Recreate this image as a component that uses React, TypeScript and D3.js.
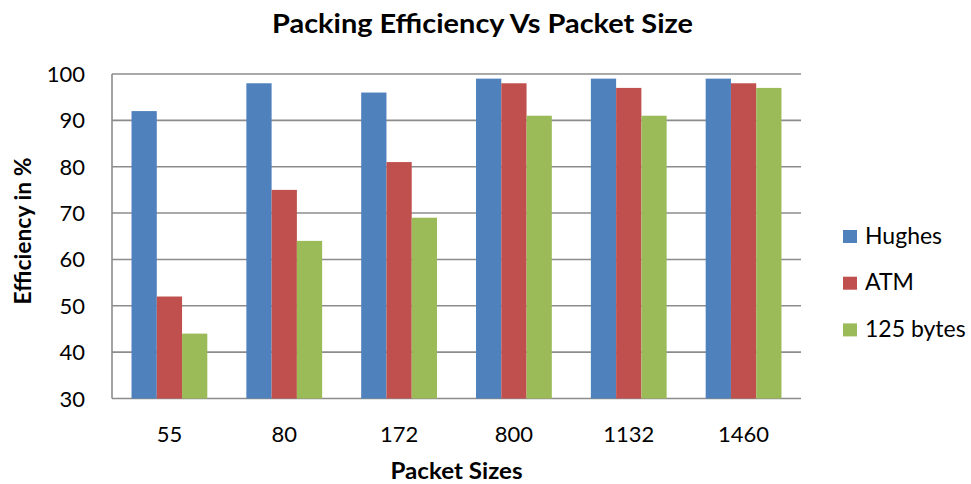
import React from "react";
import * as d3 from "d3";

const categories = ["55", "80", "172", "800", "1132", "1460"];
const seriesNames = ["Hughes", "ATM", "125 bytes"];
const hughes = [92, 98, 96, 99, 99, 99];
const atm = [52, 75, 81, 98, 97, 98];
const bytes125 = [44, 64, 69, 91, 91, 97];
const yTicks = [30, 40, 50, 60, 70, 80, 90, 100];
const colors = ["#4F81BD", "#C0504D", "#9BBB59"];

const W = 971;
const H = 484;
const plot = { left: 112, right: 801, top: 74, bottom: 398.5 };
const FONT = "Lato, 'Open Sans', sans-serif";

export default function App() {
  const seriesValues = [hughes, atm, bytes125];
  const x0 = d3
    .scaleBand<string>()
    .domain(categories)
    .range([plot.left, plot.right])
    .paddingInner(0.34)
    .paddingOuter(0.17);
  const x1 = d3
    .scaleBand<string>()
    .domain(seriesNames)
    .range([0, x0.bandwidth()]);
  const y = d3.scaleLinear().domain([30, 100]).range([plot.bottom, plot.top]);

  return (
    <svg
      width={W}
      height={H}
      style={{ position: "absolute", left: 0, top: 0, background: "#fff" }}
    >
      <rect x={0} y={0} width={W} height={H} fill="#fff" />
      {yTicks.map((t) => (
        <line
          key={"g" + t}
          x1={plot.left}
          x2={plot.right}
          y1={y(t)}
          y2={y(t)}
          stroke="#8c8c8c"
          strokeWidth={1.6}
        />
      ))}
      <line
        x1={plot.left}
        x2={plot.left}
        y1={plot.top}
        y2={plot.bottom}
        stroke="#8c8c8c"
        strokeWidth={1.6}
      />
      {categories.map((c, ci) => (
        <g key={c} transform={`translate(${x0(c)},0)`}>
          {seriesNames.map((s, si) => {
            const v = seriesValues[si][ci];
            return (
              <rect
                key={s}
                x={x1(s)}
                y={y(v)}
                width={x1.bandwidth()}
                height={plot.bottom - y(v)}
                fill={colors[si]}
              />
            );
          })}
        </g>
      ))}
      {yTicks.map((t) => (
        <text
          key={"t" + t}
          x={85}
          y={y(t) + 8}
          textAnchor="end"
          fontFamily={FONT}
          fontSize={22}
          fill="#000"
        >
          {t}
        </text>
      ))}
      {categories.map((c) => (
        <text
          key={"x" + c}
          x={(x0(c) as number) + x0.bandwidth() / 2}
          y={442}
          textAnchor="middle"
          fontFamily={FONT}
          fontSize={22}
          fill="#000"
        >
          {c}
        </text>
      ))}
      <text
        x={482.5}
        y={33}
        textAnchor="middle"
        fontFamily={FONT}
        fontWeight="bold"
        fontSize={27}
        textLength={421}
        lengthAdjust="spacingAndGlyphs"
        fill="#000"
      >
        Packing Efficiency Vs Packet Size
      </text>
      <text
        x={(plot.left + plot.right) / 2}
        y={479}
        textAnchor="middle"
        fontFamily={FONT}
        fontWeight="bold"
        fontSize={22}
        textLength={132}
        lengthAdjust="spacingAndGlyphs"
        fill="#000"
      >
        Packet Sizes
      </text>
      <text
        transform={`translate(31,231) rotate(-90)`}
        textAnchor="middle"
        fontFamily={FONT}
        fontWeight="bold"
        fontSize={22}
        textLength={147}
        lengthAdjust="spacingAndGlyphs"
        fill="#000"
      >
        Efficiency in %
      </text>
      {seriesNames.map((s, i) => (
        <g key={"l" + s} transform={`translate(843,${230 + i * 46.7})`}>
          <rect x={0} y={0} width={14} height={13} fill={colors[i]} />
          <text x={22} y={13.5} fontFamily={FONT} fontSize={23} fill="#000">
            {s}
          </text>
        </g>
      ))}
    </svg>
  );
}
